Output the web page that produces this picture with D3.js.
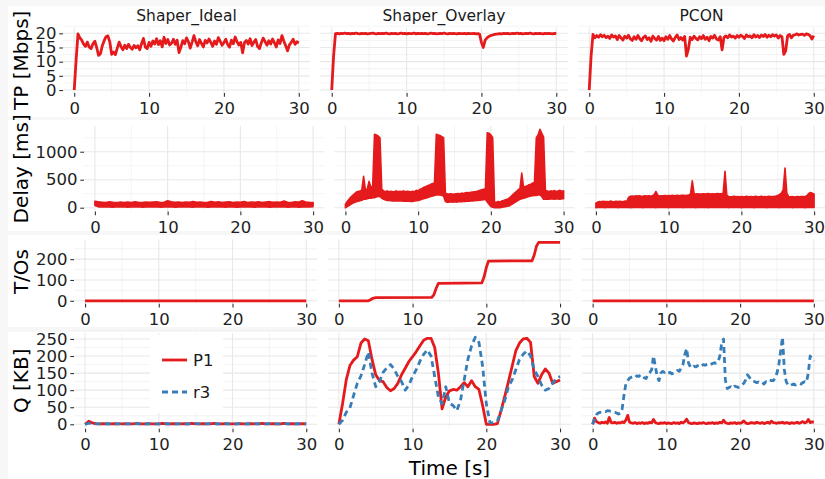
<!DOCTYPE html>
<html>
<head>
<meta charset="utf-8">
<script src="https://cdnjs.cloudflare.com/ajax/libs/d3/7.8.5/d3.min.js"></script>
<style>
    body { margin: 0; background: #f7f7f7; }
    svg text { font-family: "DejaVu Sans", "Liberation Sans", sans-serif; }
</style>
</head>
<body>
<svg id="chart" width="825" height="479"></svg>
<script>
// ---- data ----
var facets = ["Shaper_Ideal", "Shaper_Overlay", "PCON"];
var seriesNames = ["P1", "r3"];
var xTicks = [0, 10, 20, 30];
var xMinor = [5, 15, 25];
var tpTicks = [0, 5, 10, 15, 20];
var delayTicks = [0, 500, 1000];
var tosTicks = [0, 100, 200];
var qTicks = [0, 50, 100, 150, 200, 250];

// throughput, one sample every 0.25 s
var tpStep = 0.25;
var tpIdeal = [
    0, 10.5, 19.8, 18.4, 17.6, 16.2, 15.4, 16.9, 15.1, 14.6,
    16.3, 17.2, 15.0, 12.2, 12.8, 15.6, 17.4, 18.8, 19.1, 17.0,
    12.6, 13.4, 12.5, 14.8, 16.9, 15.3, 14.2, 15.8, 14.6, 16.1,
    15.0, 14.4, 15.7, 14.9, 15.6, 14.2, 16.4, 18.2, 15.1, 14.6,
    16.8, 15.4, 17.3, 16.2, 18.1, 16.0, 17.4, 15.2, 18.6, 16.4,
    17.8, 15.9, 16.5, 17.9, 16.1, 17.6, 13.2, 15.1, 17.4, 16.3,
    18.4, 17.1, 14.8, 16.9, 19.2, 17.0, 15.6, 17.8, 16.4, 15.2,
    17.5, 16.6, 18.0, 16.8, 15.4, 17.3, 16.1, 18.5, 17.2, 15.8,
    16.7, 17.9, 16.0, 15.1, 17.6, 16.3, 18.7, 17.0, 15.9, 16.8,
    13.1, 16.8, 17.5, 16.2, 18.1, 15.7, 16.9, 17.8, 15.3, 14.6,
    16.7, 18.3, 17.1, 15.8, 17.4, 16.2, 18.0, 16.6, 15.2, 17.7,
    16.4, 19.2, 17.3, 15.6, 13.8, 15.9, 16.8, 17.9, 16.1, 17.0,
    16.6];
var tpOverlay = [
    0, 12.0, 19.9, 20.0, 19.8, 20.0, 19.9, 20.1, 19.9, 20.0,
    19.8, 20.0, 19.9, 20.1, 19.9, 19.8, 20.0, 19.9, 20.0, 19.8,
    19.9, 20.0, 20.1, 19.9, 19.8, 20.0, 19.9, 20.0, 19.9, 20.1,
    19.9, 19.8, 20.0, 19.9, 20.0, 19.8, 19.9, 20.1, 19.9, 20.0,
    19.8, 20.0, 19.9, 19.9, 20.1, 19.8, 20.0, 19.9, 20.0, 19.9,
    20.0, 19.8, 19.9, 20.1, 19.9, 20.0, 19.8, 19.9, 20.0, 19.9,
    20.1, 19.9, 19.8, 20.0, 19.9, 20.0, 19.9, 19.8, 20.0, 19.9,
    19.9, 20.0, 19.8, 20.0, 19.9, 19.9, 20.0, 19.8, 19.9, 19.7,
    16.8, 15.0, 17.6, 18.4, 18.9, 19.2, 19.4, 19.6, 19.7, 19.8,
    19.9, 19.8, 20.0, 19.9, 20.0, 19.8, 19.9, 20.0, 19.9, 20.1,
    19.9, 20.0, 19.8, 19.9, 20.0, 19.9, 20.1, 19.9, 19.8, 20.0,
    19.9, 20.0, 19.9, 19.8, 20.0, 19.9, 20.0, 19.9, 19.8, 20.0,
    19.9];
var tpPcon = [
    0, 12.0, 19.6, 18.4, 19.2, 18.6, 19.5, 18.8, 19.3, 18.5,
    19.0, 18.2, 19.4, 18.7, 19.1, 17.8, 19.2, 18.4, 17.6, 19.0,
    18.3, 19.3, 18.0, 17.5, 18.8, 17.9, 19.2, 18.1, 17.4, 18.6,
    19.1, 17.8, 18.4, 17.2, 19.0, 18.2, 17.6, 18.9, 17.5, 18.3,
    17.4, 18.8, 17.9, 19.2, 18.0, 17.3, 18.6, 19.4, 17.8, 18.5,
    17.6, 18.9, 12.0, 14.5, 18.6, 17.8, 19.0, 18.2, 17.7, 18.8,
    18.1, 19.2, 17.9, 18.6, 17.4, 18.9, 18.3, 19.3, 18.0, 17.6,
    18.8, 14.2, 18.5, 19.1, 18.4, 19.4, 18.7, 19.0, 18.3, 19.2,
    18.6, 19.3, 18.9, 18.2, 19.4, 18.8, 19.1, 18.4, 19.5, 18.7,
    19.2, 18.5, 19.4, 18.9, 19.6, 18.6, 19.3, 18.8, 19.5, 19.0,
    19.4, 18.3, 19.2, 18.8, 12.6, 13.8, 19.1, 19.6, 18.4, 19.3,
    19.5, 19.8, 19.4, 19.6, 19.7, 19.3, 19.8, 19.6, 19.2, 18.0,
    19.2];

// delay is a dense band: lower and upper edge
var delayIdealStep = 0.5;
var delayIdealLo = [
    40, 15, 12, 18, 14, 10, 16, 13, 19, 11,
    15, 12, 17, 10, 14, 18, 12, 16, 11, 15,
    13, 17, 10, 14, 19, 12, 15, 11, 16, 13,
    18, 10, 14, 12, 17, 15, 11, 16, 13, 10,
    14, 18, 12, 15, 11, 16, 13, 17, 10, 14,
    12, 15, 18, 11, 13, 16, 10, 14, 12, 15,
    20];
var delayIdealHi = [
    115, 105, 98, 92, 104, 96, 90, 101, 94, 99,
    93, 106, 97, 91, 102, 95, 99, 104, 92, 96,
    124, 108, 95, 103, 94, 100, 97, 109, 95, 101,
    93, 98, 112, 96, 104, 92, 99, 107, 94, 100,
    96, 110, 93, 102, 98, 105, 91, 99, 108, 96,
    103, 98, 118, 97, 94, 106, 99, 125, 102, 95,
    90];
var delayStep = 0.25;
var delayOverlayLo = [
    0, 20, 40, 60, 80, 95, 105, 115, 125, 135,
    150, 150, 160, 170, 170, 180, 180, 190, 200, 200,
    170, 150, 140, 130, 130, 125, 120, 125, 120, 120,
    125, 120, 118, 120, 115, 118, 112, 110, 120, 125,
    130, 140, 150, 160, 170, 180, 190, 200, 210, 220,
    230, 230, 230, 220, 210, 110, 100, 100, 105, 100,
    105, 100, 105, 110, 108, 112, 110, 115, 118, 120,
    122, 125, 128, 130, 135, 140, 145, 150, 100, 60,
    20, 10, 0, 0, 5, 0, 10, 15, 20, 25,
    30, 50, 70, 90, 110, 130, 150, 160, 170, 180,
    190, 200, 210, 215, 220, 220, 230, 230, 200, 150,
    150, 155, 150, 160, 155, 150, 160, 155, 150, 160,
    160];
var delayOverlayHi = [
    60, 110, 150, 190, 220, 250, 280, 290, 300, 310,
    560, 320, 330, 470, 370, 380, 1310, 1300, 1280, 1250,
    330, 300, 290, 300, 285, 295, 280, 290, 300, 285,
    295, 290, 300, 285, 295, 290, 280, 295, 285, 310,
    300, 330, 340, 360, 375, 390, 400, 420, 430, 450,
    1310, 1300, 1290, 1270, 1250, 260, 250, 245, 250, 240,
    245, 250, 255, 250, 260, 255, 265, 270, 265, 275,
    280, 285, 290, 300, 310, 320, 330, 340, 1340, 1330,
    1300, 1250, 100, 95, 110, 100, 120, 130, 140, 150,
    170, 200, 230, 260, 290, 320, 340, 620, 360, 380,
    390, 410, 420, 440, 460, 1250, 1300, 1400, 1330, 1260,
    310, 300, 290, 300, 295, 305, 290, 300, 310, 295,
    300];
var delayPconLo = [
    0, 5, 8, 3, 6, 2, 7, 4, 9, 3,
    5, 8, 2, 6, 4, 7, 3, 9, 5, 2,
    6, 4, 8, 3, 7, 5, 2, 9, 4, 6,
    3, 8, 5, 2, 7, 4, 9, 3, 6, 5,
    2, 7, 4, 8, 3, 6, 5, 9, 2, 7,
    4, 6, 3, 8, 5, 2, 7, 4, 9, 3,
    6, 5, 2, 8, 4, 7, 3, 6, 9, 4,
    5, 3, 7, 2, 8, 4, 6, 3, 9, 5,
    2, 6, 4, 8, 3, 7, 5, 2, 9, 4,
    6, 3, 8, 5, 2, 7, 4, 9, 3, 6,
    5, 2, 8, 4, 7, 3, 6, 9, 2, 5,
    4, 7, 3, 8, 5, 2, 6, 9, 4, 3,
    6];
var delayPconHi = [
    80, 100, 110, 105, 115, 108, 112, 104, 118, 110,
    106, 114, 109, 116, 112, 107, 120, 115, 185, 205,
    210, 205, 212, 208, 214, 206, 210, 215, 209, 212,
    207, 213, 230, 290, 225, 210, 215, 212, 218, 214,
    216, 212, 220, 214, 218, 222, 215, 220, 224, 218,
    222, 226, 240, 480, 250, 245, 248, 242, 246, 250,
    244, 248, 252, 246, 250, 245, 249, 252, 247, 250,
    260, 650, 220, 200, 195, 198, 202, 196, 200, 197,
    200, 196, 199, 203, 197, 201, 195, 198, 202, 196,
    199, 203, 197, 200, 196, 202, 198, 201, 205, 210,
    220, 235, 260, 320, 710, 260, 200, 195, 198, 192,
    196, 199, 194, 198, 201, 195, 215, 250, 272, 260,
    240];

// timeouts, given at their break points
var tosFlatTime = [0, 30];
var tosIdeal = [0, 0];
var tosPcon = [0, 0];
var tosOverlayTime = [0, 4.0, 4.3, 4.6, 5.0, 12.6, 12.9, 13.2, 13.5, 19.4, 19.7, 20.0, 20.3, 26.2, 26.5, 26.8, 27.1, 30];
var tosOverlay = [0, 0, 5, 12, 15, 16, 30, 60, 84, 86, 115, 160, 191, 192, 220, 262, 281, 281];

// queue sizes
var qStep = 0.5;
var qIdealP1 = [
    0, 9, 4, 1, 1, 2, 1, 1, 2, 1,
    1, 2, 1, 1, 3, 1, 1, 2, 1, 1,
    1, 3, 1, 1, 2, 1, 1, 2, 1, 3,
    1, 1, 2, 1, 1, 3, 1, 1, 2, 1,
    1, 1, 2, 1, 1, 2, 1, 1, 3, 1,
    1, 2, 1, 1, 3, 1, 2, 1, 1, 2,
    1];
var qIdealR3 = [
    0, 3, 4, 2, 1, 1, 2, 1, 1, 1,
    2, 1, 1, 1, 2, 1, 1, 1, 2, 1,
    1, 1, 2, 1, 1, 1, 2, 1, 1, 1,
    2, 1, 1, 1, 2, 1, 1, 1, 2, 1,
    1, 1, 2, 1, 1, 1, 2, 1, 1, 1,
    2, 1, 1, 1, 2, 1, 1, 1, 2, 1,
    1];
var qOverlayP1 = [
    0, 60, 130, 172, 188, 198, 238, 250, 245, 190,
    145, 128, 125, 108, 98, 105, 120, 145, 164, 184,
    198, 213, 230, 246, 252, 252, 225, 150, 45, 80,
    98, 102, 100, 110, 122, 110, 128, 110, 102, 55,
    0, 0, 0, 2, 40, 82, 125, 170, 215, 238,
    250, 252, 240, 140, 120, 145, 162, 150, 120, 125,
    130];
var qOverlayR3 = [
    0, 12, 35, 48, 85, 120, 142, 175, 212, 150,
    110, 125, 152, 165, 175, 162, 140, 125, 100, 115,
    140, 160, 185, 205, 218, 200, 140, 80, 60, 110,
    62, 55, 40, 70, 130, 190, 230, 255, 240, 170,
    60, 4, 5, 10, 40, 70, 110, 130, 160, 190,
    205, 215, 200, 160, 140, 115, 100, 105, 120, 135,
    140];
var qPconStep = 0.25;
var qPconP1 = [
    0, 18, 8, 5, 3, 6, 4, 7, 3, 20,
    5, 4, 6, 3, 5, 4, 7, 5, 12, 26,
    6, 4, 3, 5, 2, 4, 3, 5, 2, 4,
    3, 6, 4, 14, 5, 3, 2, 4, 3, 5,
    2, 4, 3, 2, 5, 3, 4, 2, 6, 4,
    8, 15, 5, 3, 2, 4, 3, 2, 4, 3,
    5, 3, 2, 4, 3, 5, 2, 4, 3, 6,
    4, 12, 5, 3, 2, 4, 3, 5, 2, 4,
    3, 5, 10, 4, 2, 3, 5, 4, 3, 6,
    4, 3, 5, 2, 4, 6, 3, 9, 5, 4,
    3, 5, 4, 6, 3, 5, 4, 2, 5, 3,
    4, 6, 3, 5, 8, 4, 6, 14, 5, 7,
    6];
var qPconR3 = [
    0, 15, 28, 33, 35, 36, 38, 37, 40, 39,
    38, 36, 35, 33, 30, 32, 45, 85, 118, 128,
    135, 138, 140, 137, 142, 140, 145, 143, 136, 134,
    148, 152, 160, 200, 170, 140, 128, 150, 155, 152,
    155, 150, 152, 148, 150, 153, 158, 155, 165, 175,
    205, 222, 180, 168, 165, 170, 168, 172, 174, 170,
    175, 173, 176, 178, 175, 178, 180, 179, 182, 200,
    238, 250, 130, 105, 108, 110, 106, 112, 110, 108,
    110, 115, 120, 130, 145, 138, 130, 126, 125, 122,
    124, 120, 122, 118, 125, 124, 130, 128, 128, 135,
    150, 175, 215, 255, 160, 125, 115, 113, 116, 118,
    115, 117, 120, 118, 122, 125, 123, 150, 200, 192,
    185];

// ---- drawing ----
var chart = (function () {

    var self = {};
    var svg = d3.select("#chart");
    var red = "#E41A1C", blue = "#377EB8";
    var gap = 10.5;
    var tick = 3.7;

    self.pairs = function (values, step) {
        return values.map(function (v, i) {
            return [i * step, v];
        })
    }
    self.pairsT = function (times, values) {
        return values.map(function (v, i) {
            return [times[i], v];
        })
    }
    self.bands = function (lo, hi, step) {
        return lo.map(function (v, i) {
            return [i * step, v, hi[i]];
        })
    }
    self.minors = function (ticks) {
        var out = [];
        for (var i = 1; i < ticks.length; i++)
            out.push((ticks[i - 1] + ticks[i]) / 2)
        out.push(ticks[ticks.length - 1] + (ticks[1] - ticks[0]) / 2)
        return out;
    }

    self.rows = [
        {title: "TP [Mbps]", ticks: tpTicks, top: 27.5, bottom: 93, left: 63, width: 247, yDomain: [-1.05, 22.05], bg: [6, 117]},
        {title: "Delay [ms]", ticks: delayTicks, top: 126, bottom: 211.6, left: 84, width: 240, yDomain: [-69.5, 1459.5], bg: [120, 231]},
        {title: "T/Os", ticks: tosTicks, top: 239.4, bottom: 303.7, left: 74, width: 243.3, yDomain: [-14, 295], bg: [235, 327]},
        {title: "Q [KB]", ticks: qTicks, top: 332.9, bottom: 428.65, left: 74, width: 243.3, yDomain: [-12.75, 267.75], bg: [332, 479]}
    ];

    self.layers = [
        [
            [{kind: "line", pts: self.pairs(tpIdeal, tpStep), color: red}],
            [{kind: "line", pts: self.pairs(tpOverlay, tpStep), color: red}],
            [{kind: "line", pts: self.pairs(tpPcon, tpStep), color: red}]
        ],
        [
            [{kind: "band", pts: self.bands(delayIdealLo, delayIdealHi, delayIdealStep), color: red}],
            [{kind: "band", pts: self.bands(delayOverlayLo, delayOverlayHi, delayStep), color: red}],
            [{kind: "band", pts: self.bands(delayPconLo, delayPconHi, delayStep), color: red}]
        ],
        [
            [{kind: "line", pts: self.pairsT(tosFlatTime, tosIdeal), color: red}],
            [{kind: "line", pts: self.pairsT(tosOverlayTime, tosOverlay), color: red}],
            [{kind: "line", pts: self.pairsT(tosFlatTime, tosPcon), color: red}]
        ],
        [
            [{kind: "line", pts: self.pairs(qIdealP1, qStep), color: red}, {kind: "line", pts: self.pairs(qIdealR3, qStep), color: blue, dash: true}],
            [{kind: "line", pts: self.pairs(qOverlayP1, qStep), color: red}, {kind: "line", pts: self.pairs(qOverlayR3, qStep), color: blue, dash: true}],
            [{kind: "line", pts: self.pairs(qPconP1, qPconStep), color: red}, {kind: "line", pts: self.pairs(qPconR3, qPconStep), color: blue, dash: true}]
        ]
    ];

    self.drawGrid = function (g, x, y, row) {
        var x0 = x.range()[0], x1 = x.range()[1];
        var yMinor = self.minors(row.ticks);
        g.selectAll(null).data(xMinor).enter().append("line")
            .attr("x1", x).attr("x2", x).attr("y1", row.top).attr("y2", row.bottom)
            .attr("stroke", "#ececec").attr("stroke-width", 0.6);
        g.selectAll(null).data(yMinor).enter().append("line")
            .attr("x1", x0).attr("x2", x1).attr("y1", y).attr("y2", y)
            .attr("stroke", "#ececec").attr("stroke-width", 0.6);
        g.selectAll(null).data(xTicks).enter().append("line")
            .attr("x1", x).attr("x2", x).attr("y1", row.top).attr("y2", row.bottom)
            .attr("stroke", "#e8e8e8").attr("stroke-width", 1.1);
        g.selectAll(null).data(row.ticks).enter().append("line")
            .attr("x1", x0).attr("x2", x1).attr("y1", y).attr("y2", y)
            .attr("stroke", "#e8e8e8").attr("stroke-width", 1.1);
    }

    self.styleAxis = function (a) {
        a.attr("font-size", 16.5).attr("font-family", "DejaVu Sans, sans-serif").style("color", "#1e1e1e");
        a.select(".domain").remove();
        a.selectAll(".tick line").attr("stroke", "#333").attr("stroke-width", 1.1);
    }

    self.drawPanel = function (row, r, i) {
        var x0 = row.left + i * (row.width + gap);
        var x = d3.scaleLinear().domain([-1.5, 31.5]).range([x0, x0 + row.width]);
        var y = d3.scaleLinear().domain(row.yDomain).range([row.bottom, row.top]);
        var g = svg.append("g");
        self.drawGrid(g, x, y, row);

        self.layers[r][i].forEach(function (layer) {
            if (layer.kind == "band") {
                var area = d3.area().x(function (d) { return x(d[0]) })
                    .y0(function (d) { return y(d[1]) }).y1(function (d) { return y(d[2]) });
                g.append("path").attr("d", area(layer.pts)).attr("fill", layer.color)
                    .attr("stroke", layer.color).attr("stroke-width", 1.6).attr("stroke-linejoin", "round");
            } else {
                var line = d3.line().x(function (d) { return x(d[0]) }).y(function (d) { return y(d[1]) });
                g.append("path").attr("d", line(layer.pts)).attr("fill", "none")
                    .attr("stroke", layer.color).attr("stroke-width", 2.8).attr("stroke-linejoin", "round")
                    .attr("stroke-dasharray", layer.dash ? "6,4" : null);
            }
        })

        var ax = g.append("g").attr("transform", "translate(0," + row.bottom + ")")
            .call(d3.axisBottom(x).tickValues(xTicks).tickSize(tick).tickSizeOuter(0).tickPadding(5.5));
        self.styleAxis(ax);

        if (i == 0) {
            // plain integers, no thousands separator (1000 not 1,000)
            var ay = g.append("g").attr("transform", "translate(" + x0 + ",0)")
                .call(d3.axisLeft(y).tickValues(row.ticks).tickFormat(d3.format("d"))
                    .tickSize(tick).tickSizeOuter(0).tickPadding(2.9));
            self.styleAxis(ay);
            svg.append("text").attr("transform", "translate(28," + ((row.top + row.bottom) / 2) + ") rotate(-90)")
                .attr("text-anchor", "middle").attr("font-size", 20).attr("fill", "#000").text(row.title);
        }
        if (r == 0) {
            svg.append("text").attr("x", x0 + row.width / 2).attr("y", 20.6).attr("text-anchor", "middle")
                .attr("font-size", 15.5).attr("fill", "#1a1a1a").text(facets[i]);
        }
        return {x: x, y: y};
    }

    self.drawLegend = function () {
        var lg = svg.append("g").attr("transform", "translate(150,335)");
        lg.append("rect").attr("width", 73).attr("height", 78).attr("fill", "#fff");
        var colors = [red, blue];
        seriesNames.forEach(function (name, k) {
            var yy = 25 + k * 32;
            lg.append("line").attr("x1", 12).attr("x2", 37).attr("y1", yy).attr("y2", yy)
                .attr("stroke", colors[k]).attr("stroke-width", 2.8)
                .attr("stroke-dasharray", k == 1 ? "6,4" : null);
            lg.append("text").attr("x", 43).attr("y", yy + 6).attr("font-size", 16.5).attr("fill", "#1a1a1a").text(name);
        })
    }

    self.draw = function () {
        svg.append("rect").attr("width", 825).attr("height", 479).attr("fill", "#f7f7f7");
        self.rows.forEach(function (row) {
            svg.append("rect").attr("x", 8).attr("y", row.bg[0]).attr("width", 817)
                .attr("height", row.bg[1] - row.bg[0]).attr("fill", "#fff");
        })
        self.rows.forEach(function (row, r) {
            facets.forEach(function (f, i) {
                self.drawPanel(row, r, i);
            })
        })
        self.drawLegend();
        svg.append("text").attr("x", 449.5).attr("y", 475).attr("text-anchor", "middle")
            .attr("font-size", 20).attr("fill", "#000").text("Time [s]");
    }

    return self;

})()

chart.draw();
</script>
</body>
</html>
